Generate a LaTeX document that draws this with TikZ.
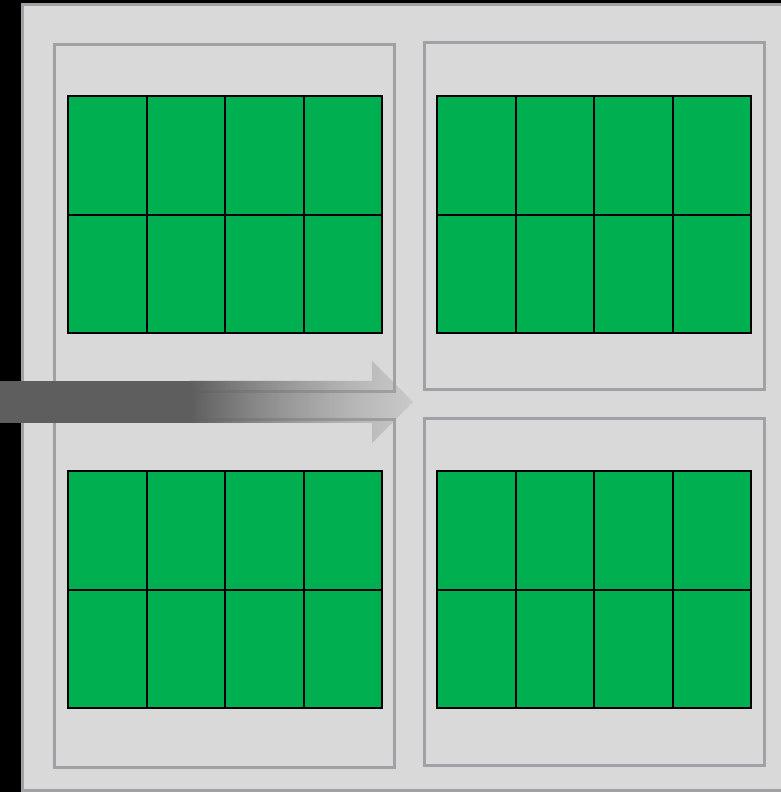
\documentclass[tikz,border=0pt]{standalone}
\usepackage{xcolor}
\usepackage{tikz}
\usetikzlibrary{fadings}
\definecolor{bgblack}{HTML}{000000}
\definecolor{panelfill}{HTML}{D9D9D9}
\definecolor{panelline}{HTML}{A1A1A5}
\definecolor{cellgreen}{HTML}{00AF50}
\definecolor{arrowdark}{HTML}{5E5E5E}
\definecolor{arrowlight}{HTML}{A4A4A4}

\tikzfading[name=arrowfade,left color=transparent!0,right color=transparent!70]

\begin{document}
\begin{tikzpicture}[x=0.3mm,y=-0.3mm,
    frame/.style={draw=panelline,line width=3*0.3mm},
    cell/.style={draw=black,fill=cellgreen,line width=2*0.3mm}]
  \useasboundingbox (0,0) rectangle (781,792);
  \clip (0,0) rectangle (781,792);
  \fill[bgblack] (0,0) rectangle (781,792);

  % panel
  \draw[frame,fill=panelfill] (22.5,4.5) rectangle (790,790.5);

  % boxes
  \draw[frame] (54.5,44.5) rectangle (394.5,391.5);
  \draw[frame] (54.5,419) rectangle (394.5,767);
  \draw[frame] (424,42) rectangle (764,389);
  \draw[frame] (424,418) rectangle (764,765);

  % grids
  \foreach \gx/\gy in {68/96,437/96,68/471,437/471} {
    \foreach \c in {0,1,2,3} \foreach \r in {0,1} {
      \draw[cell] (\gx+\c*78.5,\gy+\r*118.5) rectangle (\gx+\c*78.5+78.5,\gy+\r*118.5+118.5);
    }
  }

  % arrow
  \fill[arrowdark] (0,381) rectangle (190.5,423);
  \shade[left color=arrowdark,right color=arrowlight,path fading=arrowfade]
    (190,381) -- (372,381) -- (372,361) -- (413,402) -- (372,443) -- (372,423) -- (190,423) -- cycle;
\end{tikzpicture}
\end{document}
